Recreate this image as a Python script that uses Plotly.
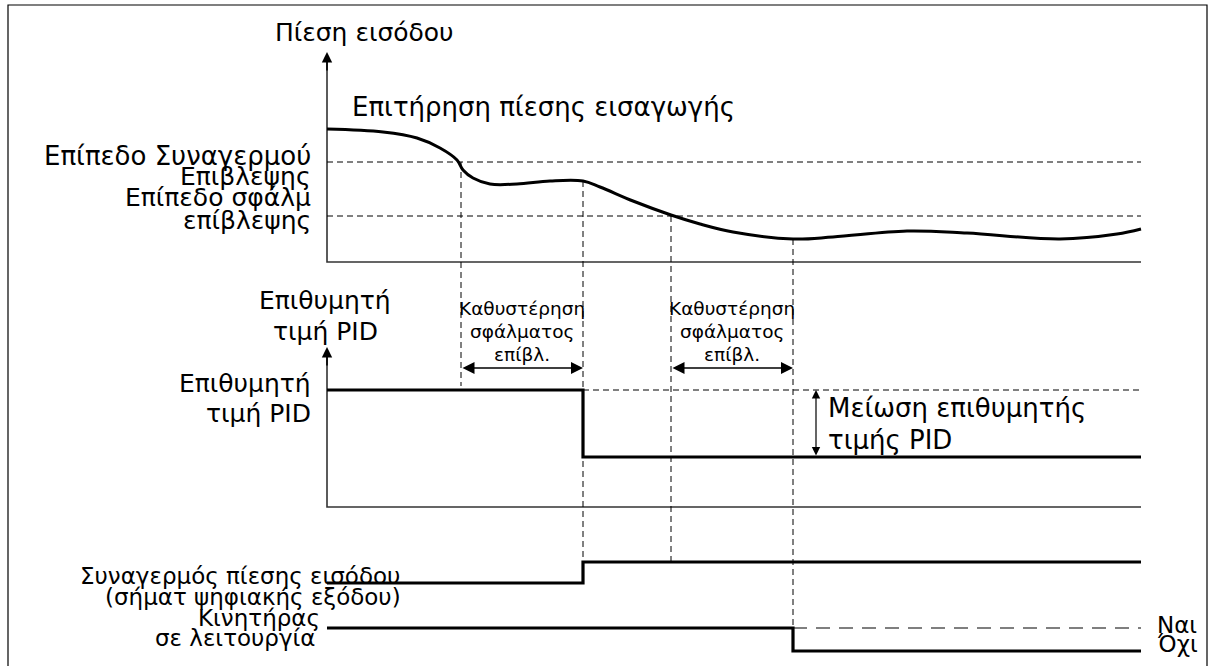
import plotly.graph_objects as go

# ---- timing of events (horizontal axis, drawing units) ----
t_start, t_end = 327, 1141
t_alarm = 461      # pressure drops under alarm level
t_pid_cut = 583    # alarm delay over -> PID setpoint reduced, alarm output on
t_fault = 671      # pressure drops under fault level
t_stop = 793       # fault delay over -> motor stops

# ---- inlet pressure trace ----
press_t = [327, 383, 417, 440, 457, 463, 473, 490, 517, 550, 583, 600, 633,
           671, 700, 733, 793, 833, 907, 967, 1060, 1117, 1141]
press_v = [129, 132, 138, 148, 160, 170, 178, 184, 184, 181, 181, 187, 201,
           215, 224, 232, 239, 237, 231, 233, 239, 234, 229]
alarm_level = 162
fault_level = 216
press_base, press_top = 262, 52

# ---- PID setpoint ----
pid_high, pid_low = 390, 457
pid_base, pid_top = 507, 347

# ---- digital signals ----
alarm_off, alarm_on = 583, 562
motor_on, motor_off = 628, 651

delay_y = 368

AX = "#333333"
INK = "black"
FONT = "DejaVu Sans"

fig = go.Figure()


def line(x, y, color=INK, width=1.0, dash="solid", shape="linear"):
    fig.add_trace(go.Scatter(x=x, y=y, mode="lines", hoverinfo="skip",
                             line=dict(color=color, width=width, dash=dash, shape=shape)))


# axes of the three panels
line([t_start, t_start, t_end], [press_top + 8, press_base, press_base], AX, 1.6)
line([t_start, t_start, t_end], [pid_top + 8, pid_base, pid_base], AX, 1.6)

# level lines
line([t_start, t_end], [alarm_level, alarm_level], dash="6px,4px")
line([t_start, t_end], [fault_level, fault_level], dash="6px,4px")
line([t_pid_cut, t_end], [pid_high, pid_high], dash="6px,4px")

# event markers
line([t_alarm, t_alarm], [alarm_level, pid_high - 4], dash="6px,4px")
line([t_pid_cut, t_pid_cut], [181, alarm_on], dash="6px,4px")
line([t_fault, t_fault], [fault_level, alarm_on], dash="6px,4px")
line([t_stop, t_stop], [239, motor_on], dash="6px,4px")

# pressure curve
line(press_t, press_v, INK, 3, shape="spline")

# PID setpoint
line([t_start, t_pid_cut, t_pid_cut, t_end], [pid_high, pid_high, pid_low, pid_low], INK, 3.2)

# alarm output
line([t_start, t_pid_cut, t_pid_cut, t_end], [alarm_off, alarm_off, alarm_on, alarm_on], INK, 3.2)

# motor running
line([t_stop, t_end], [motor_on, motor_on], INK, 1.2, dash="14px,9px")
line([t_start, t_stop, t_stop, t_end], [motor_on, motor_on, motor_off, motor_off], INK, 3.2)

# frame
line([8, 8, 1207, 1207], [700, 5, 5, 700], INK, 1.2)

ann = []


def text(x, y, s, size=25, anchor="right"):
    ann.append(dict(x=x, y=y, xref="x", yref="y", text=s, showarrow=False,
                    xanchor=anchor, yanchor="middle",
                    font=dict(family=FONT, size=size, color=INK)))


def arrow(x, y, ax, ay, both=False, size=1.4, width=1.6):
    ann.append(dict(x=x, y=y, ax=ax, ay=ay, xref="x", yref="y", axref="x", ayref="y",
                    text="", showarrow=True, arrowhead=2, arrowsize=size,
                    arrowwidth=width, arrowcolor=INK,
                    arrowside="end+start" if both else "end",
                    startarrowhead=2, startarrowsize=size))


# axis arrowheads
arrow(t_start, press_top, t_start, press_top + 20, size=1.3, width=1.6)
arrow(t_start, pid_top, t_start, pid_top + 20, size=1.3, width=1.6)

# delay arrows
arrow(t_pid_cut, delay_y, t_alarm, delay_y, both=True, size=1.5, width=1.6)
arrow(t_stop, delay_y, t_fault, delay_y, both=True, size=1.5, width=1.6)
arrow(816, pid_high, 816, pid_low, both=True, size=1.4, width=1.2)

text(273, 32, "Πίεση εισόδου", anchor="left")
text(350, 107, "Επιτήρηση πίεσης εισαγωγής", size=26, anchor="left")
text(313, 156, "Επίπεδο Συναγερμού", size=26)
text(313, 176, "Επιβλεψης")
text(313, 197, "Επίπεδο σφάλμ")
text(313, 220, "επίβλεψης")

text(325, 300, "Επιθυμητή", anchor="center")
text(325, 331, "τιμή PID", anchor="center")
text(313, 383, "Επιθυμητή")
text(313, 413, "τιμή PID")

for cx in [(t_alarm + t_pid_cut) / 2, (t_fault + t_stop) / 2]:
    text(cx, 308, "Καθυστέρηση", size=18.5, anchor="center")
    text(cx, 331, "σφάλματος", size=18.5, anchor="center")
    text(cx, 354, "επίβλ.", size=18.5, anchor="center")

text(826, 408, "Μείωση επιθυμητής", size=26, anchor="left")
text(826, 440, "τιμής PID", size=26, anchor="left")

text(402, 576, "Συναγερμός πίεσης εισόδου", size=23)
text(403, 597, "(σήματ ψηφιακής εξόδου)", size=23)
text(322, 618, "Κινητήρας", size=23)
text(318, 638, "σε λειτουργία", size=23)

text(1155, 625, "Ναι", size=23, anchor="left")
text(1155, 644, "Όχι", size=23, anchor="left")

fig.update_layout(
    width=1215, height=666,
    margin=dict(l=0, r=0, t=0, b=0),
    paper_bgcolor="white", plot_bgcolor="white",
    showlegend=False,
    annotations=ann,
    xaxis=dict(range=[0, 1215], visible=False, fixedrange=True),
    yaxis=dict(range=[666, 0], visible=False, fixedrange=True),
)

# drop the default page margin so the drawing sits at the window origin
fig.write_html("out.html", config={"displayModeBar": False},
               post_script="document.body.style.margin='0';")
